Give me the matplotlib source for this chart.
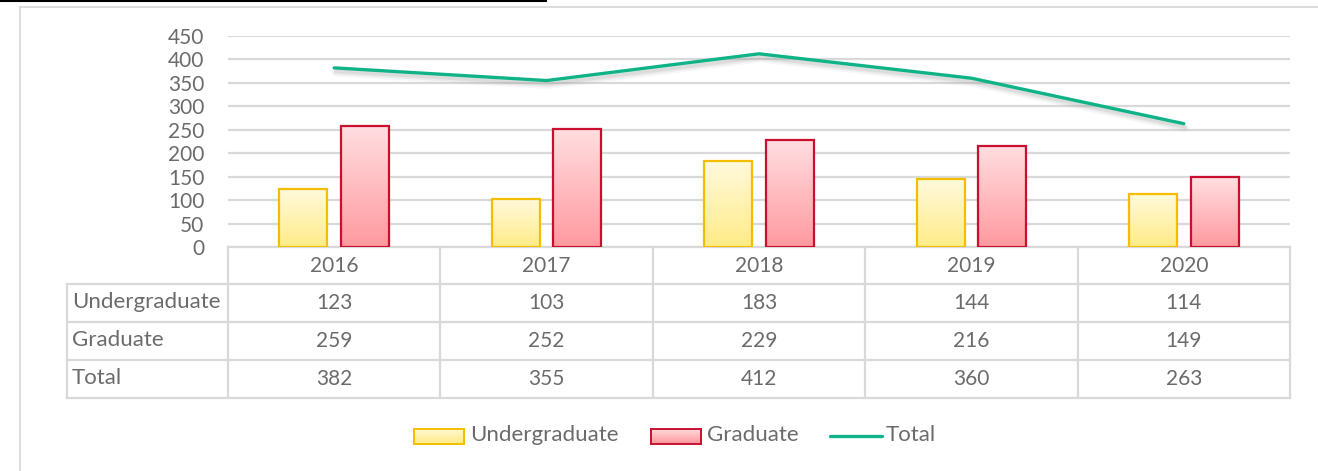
import numpy as np
import matplotlib
matplotlib.use("Agg")
import matplotlib.pyplot as plt
import matplotlib.patheffects as pe
from matplotlib.patches import Rectangle
from matplotlib.transforms import blended_transform_factory

# ---- data ----
years = ["2016", "2017", "2018", "2019", "2020"]
undergraduate = [123, 103, 183, 144, 114]
graduate = [259, 252, 229, 216, 149]
total = [382, 355, 412, 360, 263]
series_names = ["Undergraduate", "Graduate", "Total"]
y_ticks = [0, 50, 100, 150, 200, 250, 300, 350, 400, 450]

# ---- style ----
FONT = "Lato"
FS_NUM = 15
FS_WORD = 16
TXT = "#6b6b6b"
GRID = "#d9d9d9"
UG_EDGE, UG_TOP, UG_BOT = "#f5bd00", "#fff9dc", "#ffec88"
GR_EDGE, GR_TOP, GR_BOT = "#c8102e", "#ffdee1", "#ff9a9f"
LINE_C = "#10b387"

plt.rcParams["font.family"] = [FONT, "DejaVu Sans"]

W, H = 1318, 471
fig = plt.figure(figsize=(W / 100, H / 100), dpi=100)


def fx(px):
    return px / W


def fy(py):
    return 1 - py / H


# pixel-space overlay for the frame, data table and legend
over = fig.add_axes([0, 0, 1, 1], zorder=0)
over.set_xlim(0, W)
over.set_ylim(H, 0)
over.axis("off")

# plot area
PL, PR, PT, PB = 228, 1290, 36, 247
ax = fig.add_axes([fx(PL), fy(PB), fx(PR) - fx(PL), fy(PT) - fy(PB)], zorder=1)
ax.patch.set_visible(False)
x = np.arange(len(years))
ax.set_xlim(-0.5, len(years) - 0.5)
ax.set_ylim(0, 450)
ax.set_yticks(y_ticks)
ax.set_xticks([])
ax.yaxis.grid(True, color=GRID, lw=1.6)
ax.set_axisbelow(True)
for s in ax.spines.values():
    s.set_visible(False)
ax.tick_params(axis="y", length=0, pad=17, labelsize=FS_NUM, labelcolor=TXT)


def hex_rgb(h):
    h = h.lstrip("#")
    return np.array([int(h[i:i + 2], 16) / 255 for i in (0, 2, 4)])


def gradient(top, bot, n=64):
    t = np.linspace(0, 1, n)[:, None]
    g = hex_rgb(top)[None, :] * (1 - t) + hex_rgb(bot)[None, :] * t
    return g[:, None, :]


bw = 0.226
off = 0.145
for vals, dx, top, bot, edge in [
    (undergraduate, -off, UG_TOP, UG_BOT, UG_EDGE),
    (graduate, off, GR_TOP, GR_BOT, GR_EDGE),
]:
    img = gradient(top, bot)
    for xi, v in zip(x, vals):
        x0 = xi + dx - bw / 2
        ax.imshow(img, extent=(x0, x0 + bw, 0, v), origin="upper",
                  aspect="auto", zorder=2, interpolation="bilinear")
        ax.add_patch(Rectangle((x0, 0), bw, v, facecolor="none", edgecolor=edge,
                               lw=1.6, zorder=3))

# soft drop shadow under the total line
shadow = [pe.SimpleLineShadow(offset=(1, -d), shadow_color="#9a9a9a", alpha=a,
                              linewidth=2.4 + w)
          for d, a, w in [(3.5, 0.08, 3.0), (3.0, 0.12, 1.5), (2.5, 0.18, 0.0)]]
ax.plot(x, total, color=LINE_C, lw=2.4, zorder=4, solid_capstyle="round",
        path_effects=shadow + [pe.Normal()])
ax.set_xlim(-0.5, len(years) - 0.5)
ax.set_ylim(0, 450)

# ---- outer frame ----
over.plot([0, 547], [0.8, 0.8], color="black", lw=1.5, solid_capstyle="butt")
over.plot([20, W], [7, 7], color=GRID, lw=1.3)
over.plot([20, 20], [7, H], color=GRID, lw=1.3)

# ---- data table ----
TL = 67
rows_y = [247, 284, 322, 360, 398]
lw_t = 1.6
over.plot([PL, PR], [rows_y[0], rows_y[0]], color=GRID, lw=lw_t, zorder=1)
for yy in rows_y[1:]:
    over.plot([TL, PR], [yy, yy], color=GRID, lw=lw_t, zorder=1)
over.plot([TL, TL], [rows_y[1], rows_y[-1]], color=GRID, lw=lw_t, zorder=1)
for i in range(len(years) + 1):
    xp = PL + i * (PR - PL) / len(years)
    over.plot([xp, xp], [rows_y[0], rows_y[-1]], color=GRID, lw=lw_t, zorder=1)

tr = blended_transform_factory(ax.transData, over.transData)
centers = [(rows_y[i] + rows_y[i + 1]) / 2 for i in range(4)]
for xi, yr in zip(x, years):
    over.text(xi, centers[0], yr, transform=tr, ha="center", va="center",
              fontsize=FS_NUM, color=TXT)
for name, vals, cy in zip(series_names, [undergraduate, graduate, total], centers[1:]):
    over.text(TL + 5, cy - 1, name, ha="left", va="center", fontsize=FS_WORD, color=TXT)
    for xi, v in zip(x, vals):
        over.text(xi, cy, str(v), transform=tr, ha="center", va="center",
                  fontsize=FS_NUM, color=TXT)

# ---- legend ----
LY = 436


def legend_patch(x0, x1, top, bot, edge):
    over.imshow(gradient(top, bot), extent=(x0, x1, LY + 7.5, LY - 7.5),
                origin="upper", aspect="auto", zorder=2)
    over.add_patch(Rectangle((x0, LY - 7.5), x1 - x0, 15, facecolor="none",
                             edgecolor=edge, lw=1.4, zorder=3))


legend_patch(414, 464, UG_TOP, UG_BOT, UG_EDGE)
over.text(470, LY - 1, series_names[0], ha="left", va="center", fontsize=FS_WORD, color=TXT)
legend_patch(651, 701, GR_TOP, GR_BOT, GR_EDGE)
over.text(707, LY - 1, series_names[1], ha="left", va="center", fontsize=FS_WORD, color=TXT)
over.plot([830, 882], [LY, LY], color=LINE_C, lw=2.4, solid_capstyle="round")
over.text(886, LY - 1, series_names[2], ha="left", va="center", fontsize=FS_WORD, color=TXT)

over.set_xlim(0, W)
over.set_ylim(H, 0)

fig.savefig("out.png", dpi=100)
